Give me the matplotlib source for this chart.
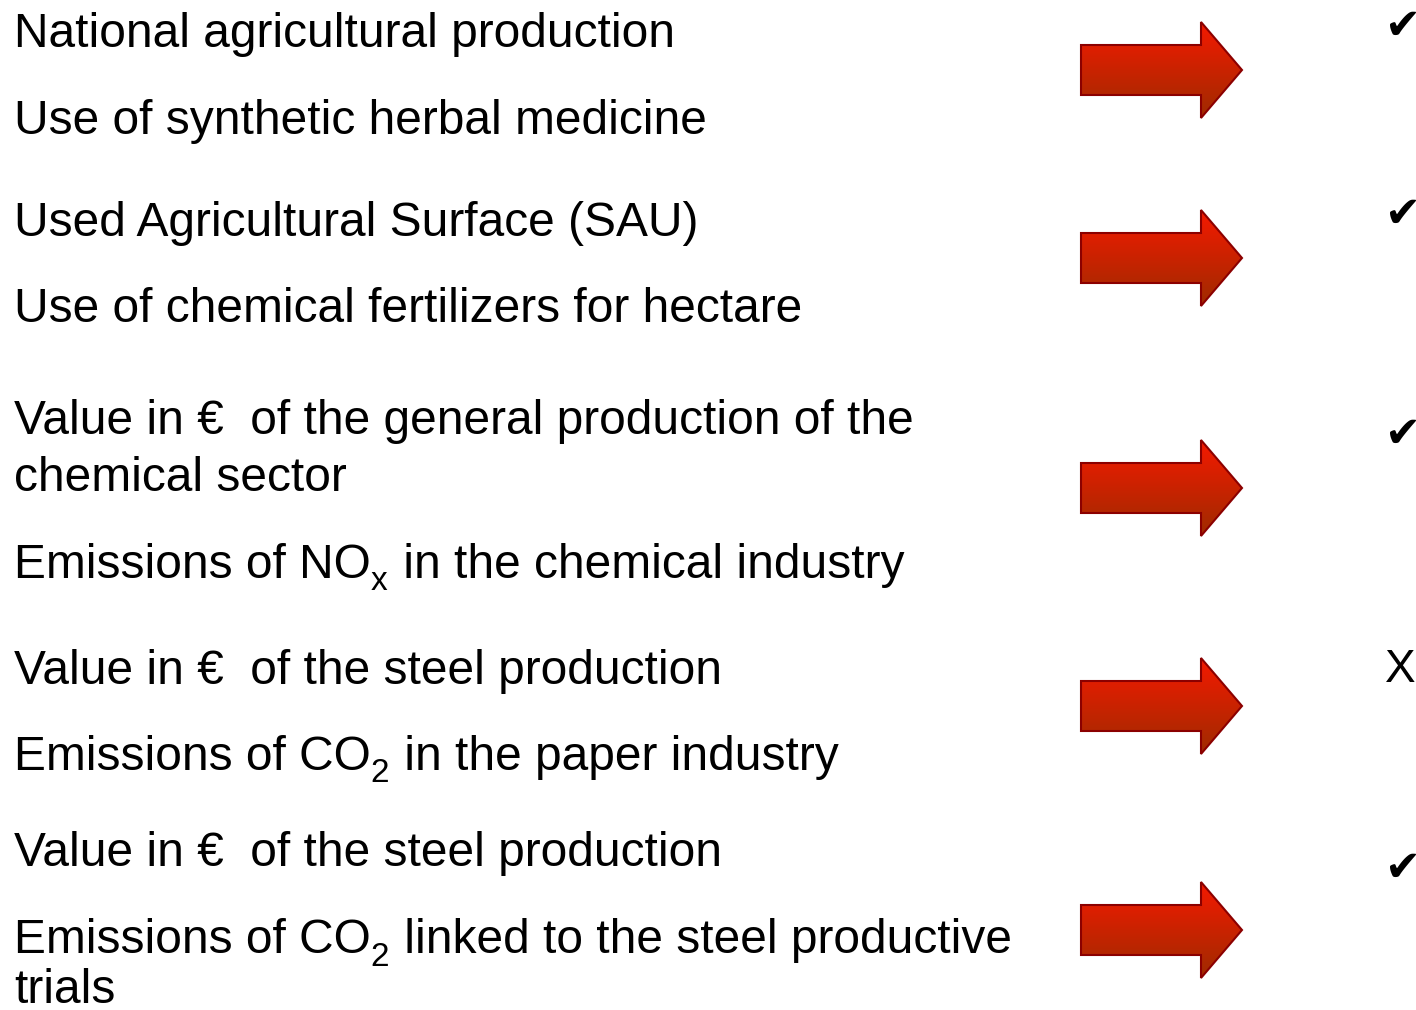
import numpy as np
import matplotlib.pyplot as plt
from matplotlib.patches import Polygon
from matplotlib.transforms import offset_copy

plt.rcParams['font.family'] = ['Liberation Sans', 'DejaVu Sans']

# left text lines: list of (piece, is_subscript), with baselines (px from top)
lines = [
    [("National agricultural production", False)],
    [("Use of synthetic herbal medicine", False)],
    [("Used Agricultural Surface (SAU)", False)],
    [("Use of chemical fertilizers for hectare", False)],
    [("Value in €  of the general production of the", False)],
    [("chemical sector", False)],
    [("Emissions of NO", False), ("x", True), (" in the chemical industry", False)],
    [("Value in €  of the steel production", False)],
    [("Emissions of CO", False), ("2", True), (" in the paper industry", False)],
    [("Value in €  of the steel production", False)],
    [("Emissions of CO", False), ("2", True), (" linked to the steel productive", False)],
    [("trials", False)],
]
baselines = [47, 134, 236, 322, 434, 491, 578, 684, 770, 866, 953, 1003]

arrow_y = [70, 258, 488, 706, 930]
marks = ["✔", "✔", "✔", "X", "✔"]
mark_y = [39, 227, 447, 682, 881]

fig = plt.figure(figsize=(14.16, 10.10), dpi=100)
ax = fig.add_axes([0, 0, 1, 1])
ax.set_xlim(0, 1416)
ax.set_ylim(1010, 0)
ax.axis('off')
renderer = fig.canvas.get_renderer()

for parts, yb in zip(lines, baselines):
    x = 14
    for s, sub in parts:
        size = 24 if sub else 34.5
        dy = -9 if sub else 0
        t = ax.text(x, yb, s, fontsize=size, va='baseline', ha='left', color='black',
                    transform=offset_copy(ax.transData, fig=fig, y=dy, units='points'))
        bb = t.get_window_extent(renderer=renderer)
        x = ax.transData.inverted().transform((bb.x1, 0))[0]
        if sub:
            x += 2

grad = np.linspace(0, 1, 256).reshape(-1, 1)
top = np.array([0.96, 0.10, 0.0])
bot = np.array([0.62, 0.17, 0.0])
for yc in arrow_y:
    pts = [(1081, yc - 25), (1201, yc - 25), (1201, yc - 48), (1242, yc),
           (1201, yc + 48), (1201, yc + 25), (1081, yc + 25)]
    img = top + (bot - top) * grad[:, :, None]
    im = ax.imshow(img, extent=(1081, 1242, yc + 48, yc - 48), aspect='auto', zorder=2)
    poly = Polygon(pts, closed=True, facecolor='none', edgecolor='#8b0000', lw=1.5, zorder=3)
    ax.add_patch(poly)
    im.set_clip_path(poly)

for m, y in zip(marks, mark_y):
    if m == "X":
        ax.text(1385, y, m, fontsize=33, va='baseline', ha='left')
    else:
        ax.text(1384, y, m, fontsize=31, va='baseline', ha='left',
                family=['DejaVu Sans'])

ax.set_xlim(0, 1416)
ax.set_ylim(1010, 0)
fig.savefig('out.png', dpi=100)
